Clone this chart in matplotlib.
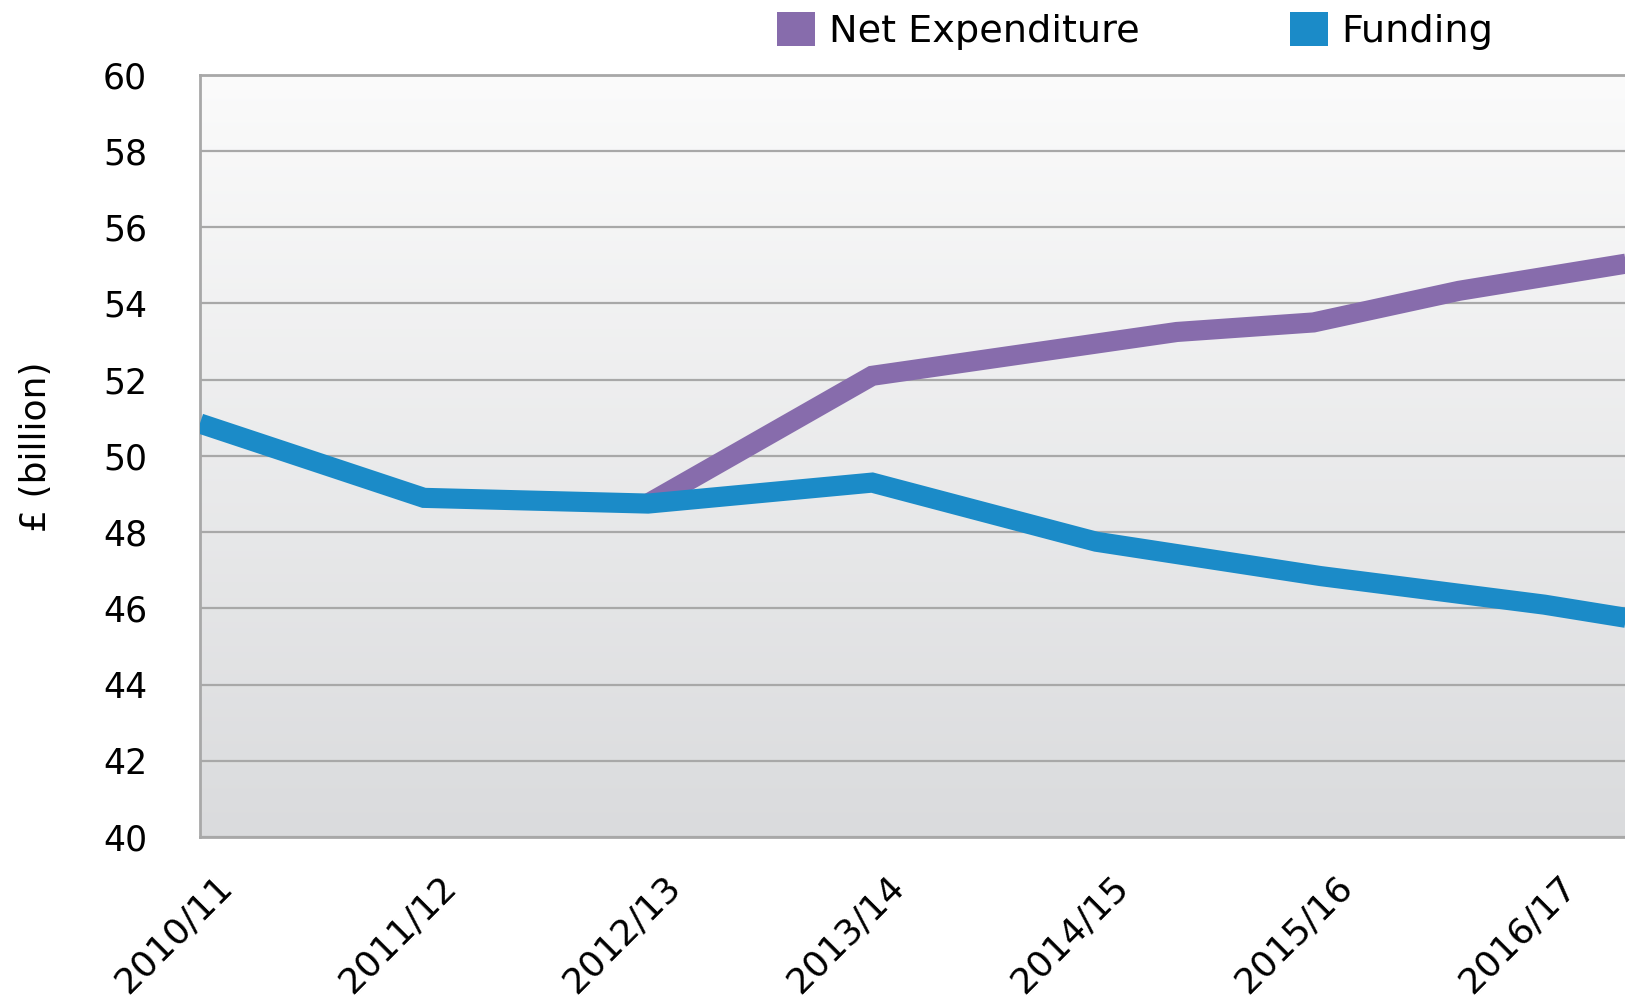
import numpy as np
import matplotlib
matplotlib.use("Agg")
import matplotlib.pyplot as plt
from matplotlib.colors import LinearSegmentedColormap
from matplotlib.patches import Patch
from matplotlib.transforms import ScaledTranslation

# category labels along the x axis (positions are category index)
years = ["2010/11", "2011/12", "2012/13", "2013/14", "2014/15", "2015/16", "2016/17"]

# funding, one value per year (last one runs off the cropped right edge)
funding_x = [0, 1, 2, 3, 4, 5, 6, 7]
funding = [50.85, 48.9, 48.75, 49.3, 47.75, 46.85, 46.1, 45.15]

netexp_x = [2, 3, 4.36, 4.97, 5.62, 7]
netexp = [48.75, 52.1, 53.25, 53.5, 54.33, 55.65]

purple = "#876cac"
blue = "#1b8bc8"
grid_grey = "#a8a8a8"

plt.rcParams["font.family"] = "DejaVu Sans"

fig = plt.figure(figsize=(16.25, 10.02), dpi=100)
ax = fig.add_axes([0.123, 0.1644, 0.877, 0.7612])

# light grey gradient behind the plot
cmap = LinearSegmentedColormap.from_list("bg", ["#dadbdd", "#fbfbfb"])
grad = np.linspace(0, 1, 256).reshape(-1, 1)
ax.imshow(grad, cmap=cmap, origin="lower", aspect="auto",
          extent=[0, 1, 0, 1], transform=ax.transAxes, zorder=0)

ax.plot(netexp_x, netexp, color=purple, lw=14.5, solid_joinstyle="miter",
        solid_capstyle="butt", zorder=3)
ax.plot(funding_x, funding, color=blue, lw=14.5, solid_joinstyle="miter",
        solid_capstyle="butt", zorder=4)

ax.set_xlim(0, 6.36)
ax.set_ylim(40, 60)
ax.set_yticks(np.arange(40, 61, 2))
ax.set_xticks(range(len(years)))
ax.set_xticklabels(years, rotation=45, ha="right", va="center",
                   rotation_mode="anchor", fontsize=26)
ax.tick_params(axis="y", length=0, pad=38, labelsize=25)
ax.tick_params(axis="x", length=0, pad=0)
offset = ScaledTranslation(0.27, -0.44, fig.dpi_scale_trans)
for lab in ax.get_xticklabels():
    lab.set_transform(lab.get_transform() + offset)

ax.grid(axis="y", color=grid_grey, lw=1.6, zorder=1)
ax.set_axisbelow(False)
for side in ["left", "bottom", "top"]:
    ax.spines[side].set_color(grid_grey)
    ax.spines[side].set_linewidth(2)
    ax.spines[side].set_zorder(1)
ax.spines["right"].set_visible(False)

fig.text(36 / 1625, 0.554, "£ (billion)", rotation=90, ha="center", va="center",
         fontsize=26)

handles = [Patch(facecolor=purple, edgecolor="none"),
           Patch(facecolor=blue, edgecolor="none")]
fig.legend(handles, ["Net Expenditure", "Funding"], loc="center left",
           bbox_to_anchor=(777 / 1625, 0.969), ncol=2, frameon=False,
           fontsize=27.5, handlelength=1.0, handleheight=1.0,
           handletextpad=0.35, columnspacing=3.95, borderpad=0,
           borderaxespad=0)

fig.savefig("out.png", dpi=100)
